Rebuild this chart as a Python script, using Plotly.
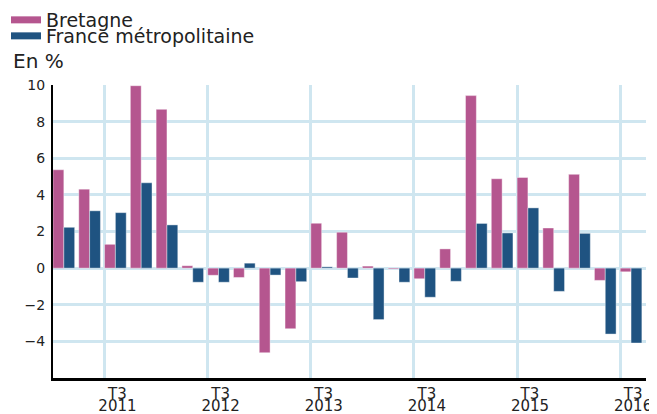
import plotly.graph_objects as go

quarters = list(range(23))  # T1 2011 ... T3 2016
bretagne = [5.37, 4.31, 1.30, 9.96, 8.67, 0.13, -0.39, -0.51, -4.62, -3.31,
            2.45, 1.96, 0.11, -0.05, -0.58, 1.05, 9.42, 4.88, 4.95, 2.19,
            5.12, -0.67, -0.20]
france = [2.23, 3.13, 3.03, 4.66, 2.36, -0.77, -0.77, 0.27, -0.38, -0.74,
          0.07, -0.54, -2.81, -0.77, -1.59, -0.72, 2.44, 1.92, 3.29, -1.27,
          1.90, -3.60, -4.09]
tick_pos = [2, 6, 10, 14, 18, 22]
quarter_text = ["T3", "T3", "T3", "T3", "T3", "T3"]
year_text = ["2011", "2012", "2013", "2014", "2015", "2016"]
grid_pos = [p - 0.5 for p in tick_pos]
y_ticks = [-4, -2, 0, 2, 4, 6, 8, 10]

PINK = "#b5568f"
BLUE = "#1f5381"
GRID = "#cfe6f0"
FONT = "DejaVu Sans"
TXT = "#222"

# page body adds an 8px offset; figure coords = screen coords - 8
OFF = 8
L, T, PW, PH = 53 - OFF, 85 - OFF, 593, 293
W, H = 657 - OFF, 414 - OFF


def px_x(sx):
    return (sx - OFF - L) / PW


def px_y(sy):
    return (T + PH - (sy - OFF)) / PH


fig = go.Figure()
fig.add_trace(go.Bar(x=quarters, y=bretagne, offset=-0.5, width=0.42,
                     marker=dict(color=PINK, line=dict(color="rgba(255,255,255,0.4)", width=1)),
                     showlegend=False, name="Bretagne"))
fig.add_trace(go.Bar(x=quarters, y=france, offset=-0.08, width=0.42, xaxis="x2",
                     marker=dict(color=BLUE, line=dict(color="rgba(255,255,255,0.4)", width=1)),
                     showlegend=False, name="France métropolitaine"))
# legend entries
fig.add_trace(go.Scatter(x=[None], y=[None], mode="lines", name="Bretagne",
                         line=dict(color=PINK, width=7), legend="legend"))
fig.add_trace(go.Scatter(x=[None], y=[None], mode="lines", name="France métropolitaine",
                         line=dict(color=BLUE, width=7), legend="legend2"))

leg_common = dict(bgcolor="rgba(0,0,0,0)", borderwidth=0,
                  font=dict(family=FONT, size=19, color=TXT),
                  xanchor="left", yanchor="middle")
fig.update_layout(
    width=W, height=H,
    margin=dict(l=L, r=W - L - PW, t=T, b=H - T - PH, autoexpand=False),
    paper_bgcolor="white", plot_bgcolor="white",
    barmode="overlay",
    font=dict(family=FONT, color=TXT),
    legend=dict(x=px_x(6), y=px_y(20), **leg_common),
    legend2=dict(x=px_x(6), y=px_y(36), **leg_common),
    xaxis=dict(range=[-0.5, 22.5], tickmode="array", tickvals=tick_pos, ticktext=quarter_text,
               showgrid=False, zeroline=False, ticks="", ticklabelstandoff=0,
               showline=True, linecolor="black", linewidth=3,
               tickfont=dict(family=FONT, size=15, color=TXT),
               minor=dict(tickmode="array", tickvals=grid_pos, showgrid=True,
                          gridcolor=GRID, gridwidth=3, ticks="")),
    xaxis2=dict(range=[-0.5, 22.5], overlaying="x", anchor="y", side="bottom",
                tickmode="array", tickvals=tick_pos, ticktext=year_text,
                showgrid=False, zeroline=False, ticks="", ticklabelstandoff=17,
                showline=False,
                tickfont=dict(family=FONT, size=15, color=TXT)),
    yaxis=dict(range=[-6, 10], tickmode="array", tickvals=y_ticks,
               showgrid=True, gridcolor=GRID, gridwidth=3, zeroline=False, ticks="",
               showline=True, linecolor="black", linewidth=2, ticklabelstandoff=3,
               tickfont=dict(family=FONT, size=14, color=TXT)),
    annotations=[dict(text="En %", x=px_x(11), y=px_y(61),
                      xref="paper", yref="paper", xanchor="left", yanchor="middle",
                      showarrow=False, font=dict(family=FONT, size=20, color=TXT))],
)
fig.write_html("out.html")
